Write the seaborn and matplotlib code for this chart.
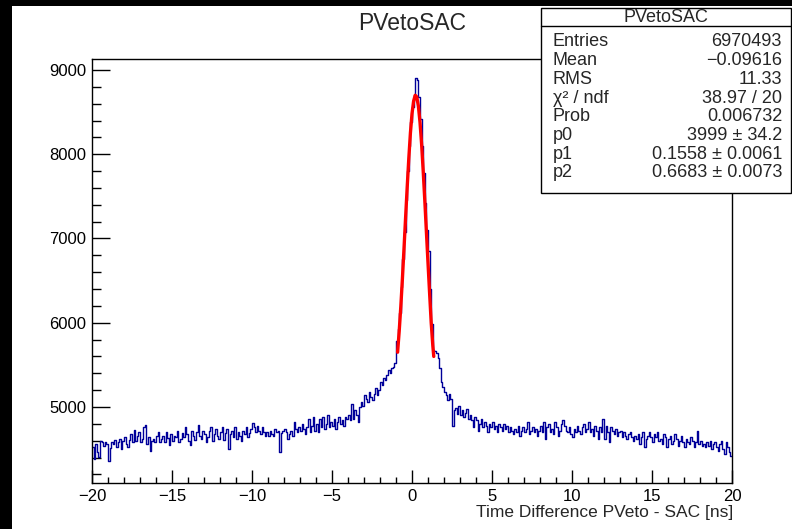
import numpy as np
import pandas as pd
import matplotlib
matplotlib.use("Agg")
import matplotlib.pyplot as plt
from matplotlib.patches import Rectangle
from matplotlib.lines import Line2D
from matplotlib.ticker import MultipleLocator
import seaborn as sns

# histogram: 400 bins of 0.1 ns between -20 and 20 ns
BIN_LO, BIN_HI, N_BINS = -20.0, 20.0, 400
counts = [
    4520, 4380, 4560, 4470, 4410, 4600, 4580, 4540, 4590, 4560,
    4360, 4510, 4580, 4560, 4610, 4530, 4580, 4620, 4500, 4600,
    4640, 4560, 4520, 4610, 4680, 4590, 4730, 4600, 4650, 4700,
    4580, 4620, 4760, 4790, 4560, 4640, 4480, 4600, 4620, 4590,
    4650, 4700, 4580, 4620, 4660, 4590, 4700, 4630, 4550, 4680,
    4600, 4660, 4640, 4720, 4580, 4620, 4690, 4640, 4760, 4680,
    4600, 4550, 4720, 4660, 4610, 4700, 4790, 4650, 4620, 4710,
    4680, 4590, 4640, 4720, 4760, 4600, 4680, 4740, 4650, 4620,
    4700, 4760, 4610, 4690, 4740, 4500, 4680, 4720, 4640, 4760,
    4620, 4700, 4650, 4600, 4720, 4680, 4760, 4640, 4690, 4740,
    4810, 4760, 4700, 4780, 4720, 4680, 4760, 4700, 4650, 4700,
    4660, 4710, 4680, 4650, 4740, 4700, 4720, 4460, 4690, 4710,
    4740, 4700, 4620, 4680, 4720, 4660, 4820, 4740, 4700, 4760,
    4720, 4800, 4740, 4680, 4760, 4860, 4700, 4780, 4880, 4720,
    4800, 4700, 4860, 4760, 4880, 4740, 4800, 4900, 4760, 4820,
    4780, 4860, 4740, 4820, 4880, 4800, 4840, 4780, 4880, 4860,
    4900, 4840, 5040, 4860, 4960, 4900, 4820, 5000, 5060, 5010,
    5140, 5100, 5060, 5180, 5120, 5080, 5160, 5220, 5140, 5200,
    5300, 5260, 5340, 5320, 5380, 5440, 5400, 5460, 5480, 5520,
    5780, 5920, 6120, 6420, 6760, 7080, 7460, 7800, 8100, 8380,
    8560, 8700, 8900, 8880, 8680, 8420, 8100, 7780, 7420, 7100,
    6850, 6400, 5980, 5680, 5660, 5640, 5580, 5460, 5300, 5240,
    5180, 5140, 5080, 5160, 5100, 4780, 4960, 4990, 4920, 5010,
    4900, 4960, 4880, 4930, 4980, 4860, 4900, 4840, 4760, 4880,
    4840, 4720, 4800, 4860, 4760, 4820, 4780, 4700, 4800, 4760,
    4820, 4740, 4780, 4700, 4800, 4760, 4720, 4800, 4740, 4780,
    4700, 4760, 4720, 4680, 4740, 4700, 4780, 4660, 4720, 4760,
    4700, 4740, 4820, 4680, 4720, 4760, 4700, 4740, 4660, 4720,
    4780, 4700, 4820, 4620, 4760, 4800, 4700, 4740, 4680, 4820,
    4760, 4660, 4720, 4800, 4840, 4780, 4720, 4700, 4760, 4680,
    4640, 4740, 4700, 4780, 4720, 4680, 4760, 4800, 4700, 4740,
    4820, 4700, 4740, 4660, 4780, 4720, 4620, 4760, 4700, 4860,
    4620, 4780, 4700, 4580, 4760, 4720, 4680, 4740, 4660, 4700,
    4720, 4640, 4700, 4660, 4620, 4680, 4700, 4640, 4600, 4660,
    4620, 4680, 4560, 4640, 4700, 4520, 4620, 4660, 4700, 4640,
    4580, 4680, 4640, 4700, 4600, 4620, 4560, 4680, 4640, 4520,
    4620, 4660, 4560, 4600, 4680, 4620, 4540, 4600, 4660, 4580,
    4520, 4620, 4580, 4560, 4640, 4600, 4520, 4580, 4720, 4560,
    4600, 4540, 4560, 4520, 4580, 4540, 4600, 4500, 4560, 4580,
    4520, 4480, 4560, 4600, 4500, 4440, 4580, 4520, 4460, 4420,
]

# fitted curve
fit_x = [-0.9, -0.8, -0.7, -0.6, -0.5, -0.4, -0.3, -0.2, -0.1, 0.0, 0.1, 0.2,
         0.3, 0.4, 0.5, 0.6, 0.7, 0.8, 0.9, 1.0, 1.1, 1.2, 1.3, 1.36]
fit_y = [5650, 5900, 6190, 6520, 6880, 7250, 7610, 7950, 8250, 8480, 8630, 8700,
         8680, 8570, 8380, 8120, 7800, 7450, 7080, 6710, 6350, 6000, 5730, 5600]

# stats box
stat_names = ["Entries", "Mean", "RMS", "\u03c7\u00b2 / ndf", "Prob", "p0", "p1", "p2"]
stat_values = ["6970493", "\u22120.09616", "11.33", "38.97 / 20", "0.006732",
               "3999 \u00b1 34.2", "0.1558 \u00b1 0.0061", "0.6683 \u00b1 0.0073"]

W, H = 792, 529

sns.set_theme(style="white")
plt.rcParams["font.family"] = ["Liberation Sans", "DejaVu Sans"]

bin_w = (BIN_HI - BIN_LO) / N_BINS
centers = BIN_LO + bin_w * (np.arange(N_BINS) + 0.5)
df = pd.DataFrame({"t": centers, "n": counts})
fit_df = pd.DataFrame({"t": fit_x, "f": fit_y})


def fx(px):
    return px / W


def fy(py):
    return 1 - py / H


fig = plt.figure(figsize=(W / 100, H / 100), dpi=100)
fig.patch.set_facecolor("black")
fig.add_artist(Rectangle((fx(12), 0), 1 - fx(12), fy(6), transform=fig.transFigure,
                         facecolor="white", edgecolor="none", zorder=-5))

ax = fig.add_axes([fx(92), fy(483), fx(732) - fx(92), fy(59) - fy(483)])
sns.histplot(data=df, x="t", weights="n", binwidth=bin_w, binrange=(BIN_LO, BIN_HI),
             element="step", fill=False, color="#000099", linewidth=1.0, ax=ax)
sns.lineplot(data=fit_df, x="t", y="f", color="#ff0000", linewidth=2.4, ax=ax)

ax.set_xlim(-20, 20)
ax.set_ylim(4098, 9130)
ax.set_xlabel("")
ax.set_ylabel("")
ax.xaxis.set_major_locator(MultipleLocator(5))
ax.xaxis.set_minor_locator(MultipleLocator(1))
ax.yaxis.set_major_locator(MultipleLocator(1000))
ax.yaxis.set_minor_locator(MultipleLocator(200))
ax.tick_params(which="both", bottom=True, left=True, top=False, right=False,
               direction="in", width=1, color="black")
ax.tick_params(axis="x", which="major", length=9.5, labelsize=12, pad=4, labelcolor="black")
ax.tick_params(axis="x", which="minor", length=4.5)
ax.tick_params(axis="y", which="major", length=13, labelsize=12, pad=4, labelcolor="black")
ax.tick_params(axis="y", which="minor", length=6.5)
for s in ax.spines.values():
    s.set_color("black")
    s.set_linewidth(1)

# title and axis title
fig.text(fx(412), fy(24), "PVetoSAC", ha="center", va="center", fontsize=16.5)
fig.text(fx(733), fy(513), "Time Difference PVeto - SAC [ns]", ha="right",
         va="center", fontsize=12.5)

# stats box
fig.add_artist(Rectangle((fx(541), fy(193)), fx(791) - fx(541), fy(8) - fy(193),
                         transform=fig.transFigure, facecolor="white",
                         edgecolor="black", linewidth=1, zorder=5))
fig.add_artist(Line2D([fx(541), fx(791)], [fy(25.5), fy(25.5)],
                      transform=fig.transFigure, color="black", linewidth=1, zorder=6))
fig.text(fx(666), fy(17), "PVetoSAC", ha="center", va="center", fontsize=13, zorder=7)
for i, (name, val) in enumerate(zip(stat_names, stat_values)):
    yy = 42 + i * 18.7
    fig.text(fx(553), fy(yy), name, ha="left", va="center", fontsize=13, zorder=7)
    fig.text(fx(782), fy(yy), val, ha="right", va="center", fontsize=13, zorder=7)

fig.savefig("out.png", dpi=100, facecolor=fig.get_facecolor())
